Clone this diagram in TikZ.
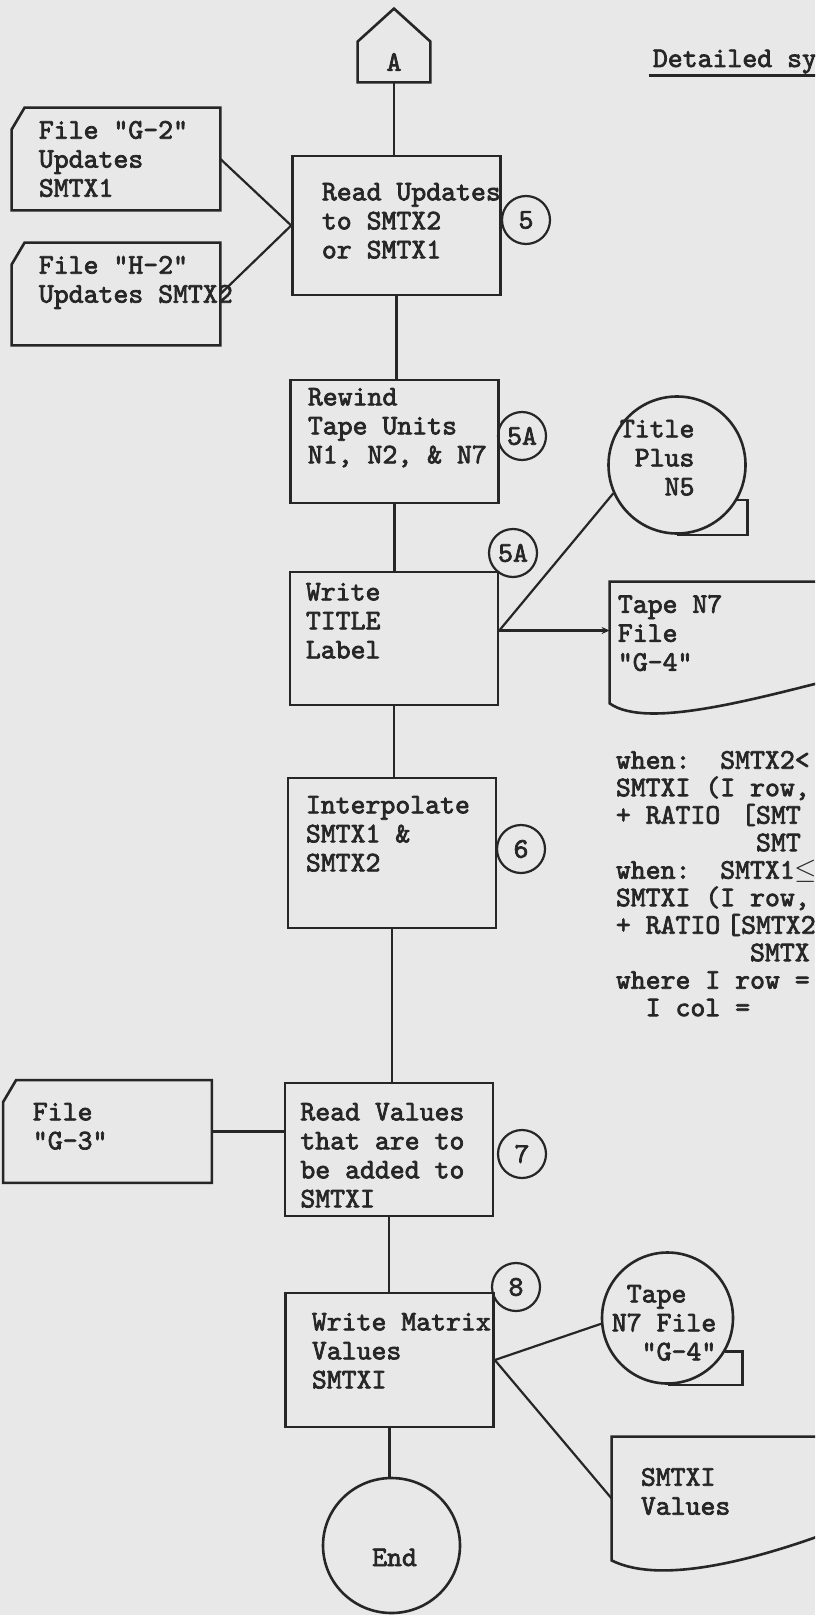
\documentclass[tikz,border=0pt]{standalone}
\usepackage{fontspec}
\newfontfamily\typer[FakeBold=2.5]{lmmono10-regular.otf}
\usetikzlibrary{shapes.geometric,arrows.meta}

\definecolor{paper}{HTML}{E8E8E8}
\definecolor{ink}{HTML}{262626}

% typewriter columns
\newcommand\indentby[1]{\hspace*{#1\dimexpr0.525em\relax}}
% punched card outline, corner cut at top left
\newcommand\cardedge[1]{%
  \draw[shapeline] ([xshift=6.5pt]#1.north west) -- (#1.north east) -- (#1.south east)
    -- (#1.south west) -- ([yshift=-11pt]#1.north west) -- cycle;}

\begin{document}
\begin{tikzpicture}[
    x=0.5pt, y=-0.5pt,
    every node/.style={font=\typer\fontsize{14.2}{14.5}\selectfont, text=ink, inner sep=0pt},
    procbox/.style={draw=ink, line width=1.3pt, minimum width=104pt},
    stepno/.style={circle, draw=ink, line width=1.1pt, minimum size=24pt},
    tape/.style={circle, draw=ink, line width=1.3pt},
    cardbody/.style={minimum width=104pt, minimum height=51pt},
    txt/.style={anchor=north west, align=left},
    flow/.style={draw=ink, line width=1.1pt},
    shapeline/.style={draw=ink, line width=1.3pt}
]
\useasboundingbox (0,0) rectangle (815,1615);
\fill[paper] (0,0) rectangle (815,1615);
\clip (0,0) rectangle (815,1615);

% main column
\node[minimum width=36pt, minimum height=20pt] (pg) at (394,62) {A};
\draw[shapeline] (pg.south west) -- (pg.north west) -- ([yshift=16.5pt]pg.north)
    -- (pg.north east) -- (pg.south east) -- cycle;
\node[procbox, minimum height=69.5pt] (upd) at (396.5,225.5) {};
\node[procbox, minimum height=61.5pt] (rew) at (394.5,441.5) {};
\node[procbox, minimum height=66.5pt] (wrt) at (394,638.5) {};
\node[procbox, minimum height=75pt] (intp) at (392,853) {};
\node[procbox, minimum height=66.5pt] (rdv) at (389,1149.5) {};
\node[procbox, minimum height=67pt] (wm) at (389.5,1360) {};
\node[ellipse, draw=ink, line width=1.3pt, minimum width=68.5pt, minimum height=67.5pt] (fin) at (391.5,1545.5) {};

\node[txt] (updtxt) at (321.5,182.6) {Read Updates\\to SMTX2\\or SMTX1};
\node[txt] (rewtxt) at (307.5,387.6) {Rewind\\Tape Units\\N1, N2, \& N7};
\node[txt] (wrttxt) at (305.5,582.6) {Write\\TITLE\\Label};
\node[txt] (intptxt) at (305.5,795.6) {Interpolate\\SMTX1 \&\\SMTX2};
\node[txt] (rdvtxt) at (300,1102.6) {Read Values\\that are to\\be added to\\SMTXI};
\node[txt] (wmtxt) at (311.5,1312.6) {Write Matrix\\Values\\SMTXI};
\node[anchor=base] (fintxt) at (394.5,1566) {End};

% step numbers
\node[stepno] (s5) at (526,220) {5};
\node[stepno] (s5a) at (522,436) {5A};
\node[stepno] (s5b) at (513,553) {5A};
\node[stepno] (s6) at (521,849) {6};
\node[stepno] (s7) at (522,1154) {7};
\node[stepno] (s8) at (516,1287) {8};

% input cards
\node[cardbody] (g2) at (116,159) {};
\node[cardbody] (h2) at (116,294) {};
\node[cardbody] (g3) at (107.5,1131.5) {};
\cardedge{g2}
\cardedge{h2}
\cardedge{g3}
\node[txt] (g2txt) at (38.5,120.6) {File "G-2"\\Updates\\SMTX1};
\node[txt] (h2txt) at (38.5,255.6) {File "H-2"\\Updates SMTX2};
\node[txt] (g3txt) at (32.5,1102.6) {File\\"G-3"};

% tapes and documents
\node[tape, minimum size=68.5pt] (t1) at (677,465) {};
\draw[shapeline] (t1.-30) -- ++(10,0) |- (t1.south);
\node[tape, minimum size=65.5pt] (t2) at (667.5,1318) {};
\draw[shapeline] (t2.-30) -- ++(17,0) |- (t2.south);
\node[minimum width=125pt, minimum height=60.5pt] (d1) at (735,642.5) {};
\draw[shapeline] (d1.north west) -- (d1.north east) -- ([yshift=15.5pt]d1.south east)
    .. controls +(-100,25) and +(38,27) .. (d1.south west) -- cycle;
\node[minimum width=124pt, minimum height=61.5pt] (d2) at (736,1498.5) {};
\draw[shapeline] (d2.north west) -- (d2.north east) -- ([yshift=20pt]d2.south east)
    .. controls +(-100,40) and +(50,25) .. (d2.south west) -- cycle;
\node[txt] (t1txt) at (619.5,419.6) {Title\\\indentby{1}Plus\\\indentby{3}N5};
\node[txt] (d1txt) at (617.5,594.6) {Tape N7\\File\\"G-4"};
\node[txt] (t2txt) at (611.5,1284.6) {\indentby{1}Tape\\N7 File\\\indentby{2}"G-4"};
\node[txt] (d2txt) at (640.5,1467.6) {SMTXI\\Values};

% heading and formulas
\node[anchor=base west] (hdr) at (652.5,67) {Detailed sy};
\draw[ink, line width=1.5pt] ([xshift=-2pt,yshift=-4.5pt]hdr.base west) -- ++(200,0);
\node[txt, font=\typer\fontsize{14.2}{13.75}\selectfont] (cond) at (615.5,750.6)
    {when:\indentby{2}SMTX2<\\SMTXI (I row,\\+ RATIO\indentby{1.4}[SMT\\\indentby{9.4}SMT\\
     when:\indentby{2}SMTX1$\leq$\\SMTXI (I row,\\+ RATIO\indentby{0.4}[SMTX2\\\indentby{9}SMTX\\
     where I row =\\\indentby{2}I col =};

% connectors
\coordinate (wj) at ([yshift=4pt]wrt.east);
\draw[flow] (pg.south) -- (pg.south |- upd.north);
\draw[flow] (g2.east) -- (upd.west);
\draw[flow] (h2.east) -- (upd.west);
\draw[flow] (upd.south) -- (upd.south |- rew.north);
\draw[flow] (rew.south) -- (rew.south |- wrt.north);
\draw[flow] (wj) -- (t1.204);
\draw[flow, -{Stealth[length=4pt,width=3.5pt]}] (wj) -- (wj -| d1.west);
\draw[flow] (wrt.south) -- (wrt.south |- intp.north);
\draw[flow] (intp.south) -- (intp.south |- rdv.north);
\draw[flow] (g3.east) -- (g3.east -| rdv.west);
\draw[flow] (rdv.south) -- (rdv.south |- wm.north);
\draw[flow] (wm.east) -- (t2.185);
\draw[flow] (wm.east) -- (d2.west);
\draw[flow] (wm.south) -- (wm.south |- fin.north);
\end{tikzpicture}
\end{document}
